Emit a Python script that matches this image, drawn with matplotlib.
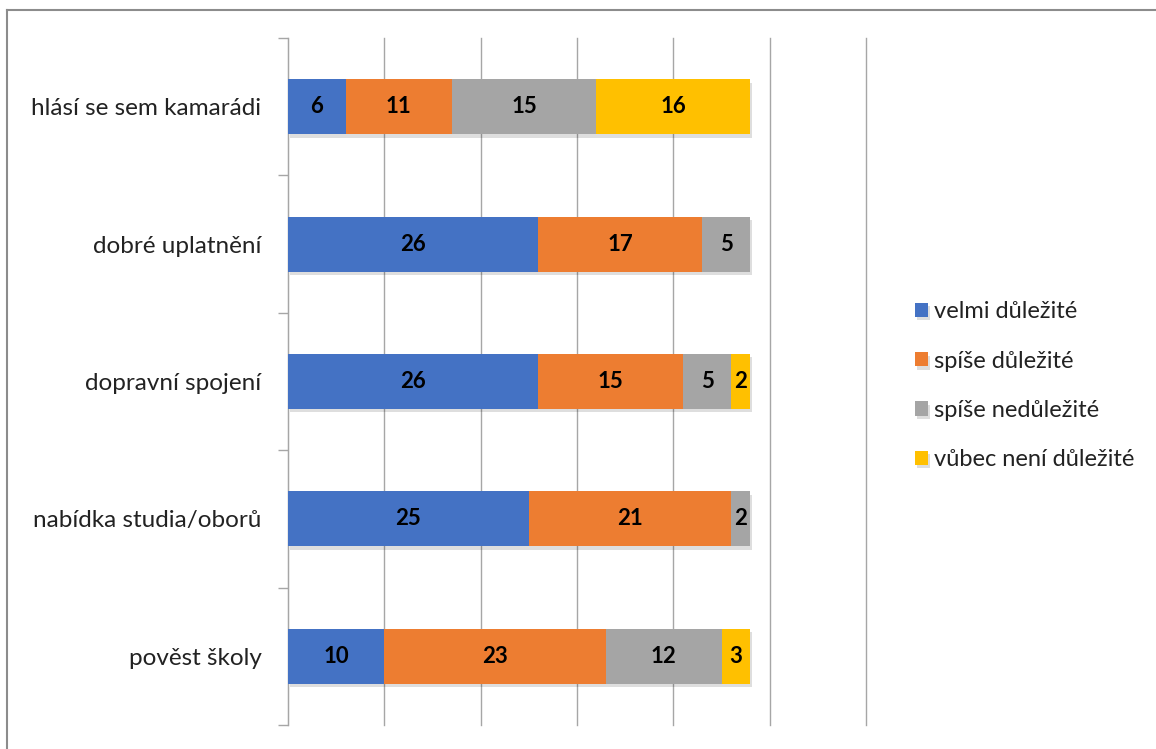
import numpy as np
import matplotlib
matplotlib.use('Agg')
import matplotlib.pyplot as plt
import matplotlib.patheffects as pe
from matplotlib.lines import Line2D

plt.rcParams['font.family'] = ['Lato', 'DejaVu Sans']

# data (bottom to top as drawn)
kategorie = ['pověst školy', 'nabídka studia/oborů', 'dopravní spojení',
             'dobré uplatnění', 'hlásí se sem kamarádi']
serie = ['velmi důležité', 'spíše důležité', 'spíše nedůležité', 'vůbec není důležité']
velmi = [10, 25, 26, 26, 6]
spise = [23, 21, 15, 17, 11]
spise_ne = [12, 2, 5, 5, 15]
vubec = [3, 0, 2, 0, 16]
hodnoty = [velmi, spise, spise_ne, vubec]
barvy = ['#4472C4', '#ED7D31', '#A5A5A5', '#FFC000']

fig = plt.figure(figsize=(11.56, 7.49), dpi=100)
W, H = 1156, 749
ax = fig.add_axes([288 / W, 1 - 725 / H, (866 - 288) / W, (725 - 38) / H])

y = np.arange(len(kategorie))
left = np.zeros(len(kategorie))
shadow = [pe.SimplePatchShadow(offset=(1.5, -2.5), shadow_rgbFace='#000000', alpha=0.13), pe.Normal()]
for vals, name, col in zip(hodnoty, serie, barvy):
    vals = np.array(vals, dtype=float)
    bars = ax.barh(y, vals, left=left, height=0.4, color=col, label=name, zorder=3)
    for b, v in zip(bars, vals):
        b.set_path_effects(shadow)
        if v > 0:
            ax.text(b.get_x() + b.get_width() / 2, b.get_y() + b.get_height() / 2,
                    str(int(v)), ha='center', va='center', fontsize=16,
                    fontweight='bold', color='#000000', zorder=5)
    left += vals

ax.set_xlim(0, 60)
ax.set_ylim(-0.5, len(kategorie) - 0.5)
ax.set_xticks(np.arange(0, 61, 10))
ax.set_xticklabels([])
ax.tick_params(axis='x', length=0)
ax.grid(axis='x', color='#A6A6A6', linewidth=1.0, zorder=0)
for gl in ax.get_xgridlines():
    gl.set_clip_on(False)
ax.set_yticks(y)
ax.set_yticklabels(kategorie, fontsize=17.5, color='#222222')
ax.set_yticks(np.arange(-0.5, len(kategorie), 1), minor=True)
ax.tick_params(axis='y', which='major', length=0, pad=19)
ax.tick_params(axis='y', which='minor', length=7, color='#A6A6A6', width=1)
for s in ['top', 'right', 'bottom']:
    ax.spines[s].set_visible(False)
ax.spines['left'].set_color('#A6A6A6')

leg = fig.legend(loc='upper left', bbox_to_anchor=(894 / W, 1 - 280 / H), frameon=False,
                 fontsize=17, handlelength=0.55, handleheight=0.55, handletextpad=0.25,
                 labelspacing=1.2, labelcolor='#222222')

# chart border (top and left visible)
fig.add_artist(Line2D([7 / W, 1], [1 - 10 / H, 1 - 10 / H], color='#8C8C8C', lw=1.5))
fig.add_artist(Line2D([7 / W, 7 / W], [0, 1 - 10 / H], color='#8C8C8C', lw=1.5))

fig.savefig('out.png', dpi=100)
